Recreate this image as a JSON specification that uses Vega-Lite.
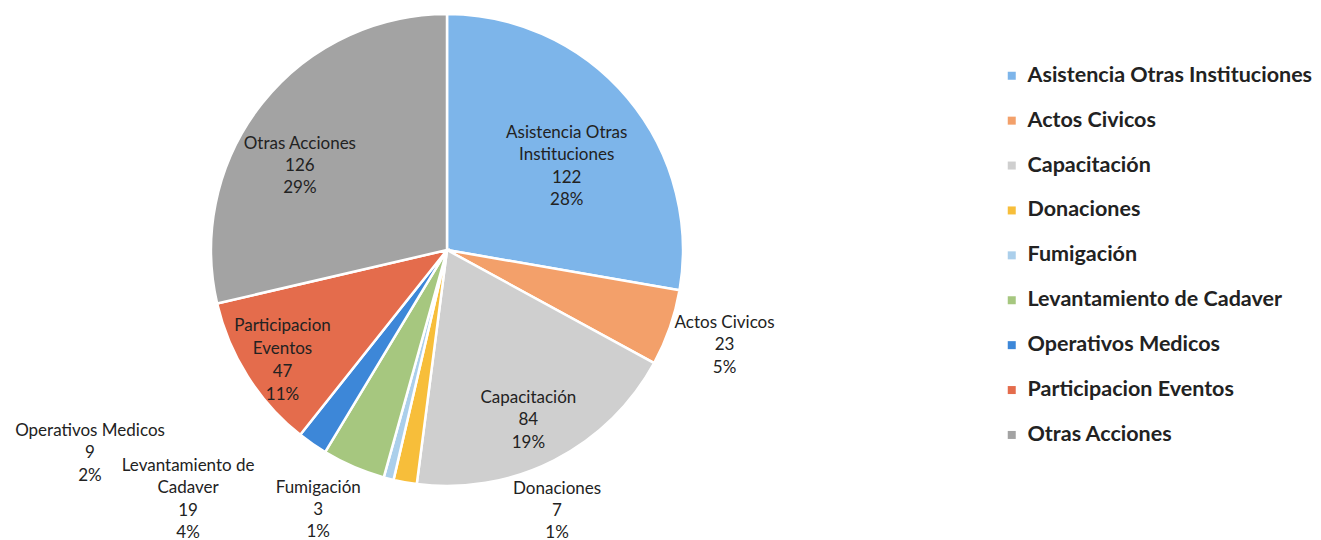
{
  "$schema": "https://vega.github.io/schema/vega-lite/v6.json",
  "width": 894,
  "height": 500,
  "padding": 0,
  "background": "#ffffff",
  "view": {"stroke": null},
  "data": {
    "values": [
      {"i": 1, "cat": "Asistencia Otras Instituciones", "lname": "Asistencia Otras\nInstituciones", "value": 122, "pct": 28},
      {"i": 2, "cat": "Actos Civicos", "lname": "Actos Civicos", "value": 23, "pct": 5},
      {"i": 3, "cat": "Capacitación", "lname": "Capacitación", "value": 84, "pct": 19},
      {"i": 4, "cat": "Donaciones", "lname": "Donaciones", "value": 7, "pct": 1},
      {"i": 5, "cat": "Fumigación", "lname": "Fumigación", "value": 3, "pct": 1},
      {"i": 6, "cat": "Levantamiento de Cadaver", "lname": "Levantamiento de\nCadaver", "value": 19, "pct": 4},
      {"i": 7, "cat": "Operativos Medicos", "lname": "Operativos Medicos", "value": 9, "pct": 2},
      {"i": 8, "cat": "Participacion Eventos", "lname": "Participacion\nEventos", "value": 47, "pct": 11},
      {"i": 9, "cat": "Otras Acciones", "lname": "Otras Acciones", "value": 126, "pct": 29}
    ]
  },
  "transform": [
    {"calculate": "datum.lname + '\\n' + datum.value + '\\n' + datum.pct + '%'", "as": "lbl"}
  ],
  "encoding": {
    "theta": {"field": "value", "type": "quantitative", "stack": true},
    "order": {"field": "i", "type": "quantitative"}
  },
  "layer": [
    {
      "mark": {"type": "arc", "outerRadius": 236, "stroke": "#ffffff", "strokeWidth": 2.5},
      "encoding": {
        "color": {
          "field": "cat",
          "type": "nominal",
          "sort": null,
          "scale": {
            "domain": ["Asistencia Otras Instituciones", "Actos Civicos", "Capacitación", "Donaciones", "Fumigación", "Levantamiento de Cadaver", "Operativos Medicos", "Participacion Eventos", "Otras Acciones"],
            "range": ["#7DB5EA", "#F3A06A", "#CFCFCF", "#F7BE3A", "#ABCFEB", "#A6C77F", "#3D87D8", "#E46C4C", "#A3A3A3"]
          },
          "legend": {
            "title": null,
            "orient": "none",
            "legendX": 1001,
            "legendY": 65,
            "padding": 0,
            "labelFont": "Lato",
            "labelFontSize": 21.5,
            "labelFontWeight": "bold",
            "labelColor": "#222222",
            "symbolType": "square",
            "symbolSize": 64,
            "symbolStrokeWidth": 0,
            "rowPadding": 21.9,
            "labelOffset": 5,
            "labelLimit": 400
          }
        }
      }
    },
    {
      "mark": {"type": "text", "radius": 146, "dx": 8, "dy": -23, "font": "Lato", "fontSize": 17, "lineHeight": 22.5, "lineBreak": "\n", "color": "#222222", "baseline": "middle"},
      "encoding": {"detail": {"field": "cat"}, "text": {"condition": {"test": "datum.cat === 'Asistencia Otras Instituciones'", "field": "lbl"}, "value": ""}}
    },
    {
      "mark": {"type": "text", "radius": 294, "dx": 0, "dy": -24, "font": "Lato", "fontSize": 17, "lineHeight": 22.5, "lineBreak": "\n", "color": "#222222", "baseline": "middle"},
      "encoding": {"detail": {"field": "cat"}, "text": {"condition": {"test": "datum.cat === 'Actos Civicos'", "field": "lbl"}, "value": ""}}
    },
    {
      "mark": {"type": "text", "radius": 188, "dx": -4, "dy": -20, "font": "Lato", "fontSize": 17, "lineHeight": 22.5, "lineBreak": "\n", "color": "#222222", "baseline": "middle"},
      "encoding": {"detail": {"field": "cat"}, "text": {"condition": {"test": "datum.cat === 'Capacitación'", "field": "lbl"}, "value": ""}}
    },
    {
      "mark": {"type": "text", "radius": 270, "dx": 158, "dy": -27, "font": "Lato", "fontSize": 17, "lineHeight": 22, "lineBreak": "\n", "color": "#222222", "baseline": "middle"},
      "encoding": {"detail": {"field": "cat"}, "text": {"condition": {"test": "datum.cat === 'Donaciones'", "field": "lbl"}, "value": ""}}
    },
    {
      "mark": {"type": "text", "radius": 270, "dx": -62, "dy": -24, "font": "Lato", "fontSize": 17, "lineHeight": 22, "lineBreak": "\n", "color": "#222222", "baseline": "middle"},
      "encoding": {"detail": {"field": "cat"}, "text": {"condition": {"test": "datum.cat === 'Fumigación'", "field": "lbl"}, "value": ""}}
    },
    {
      "mark": {"type": "text", "radius": 270, "dx": -152, "dy": -32, "font": "Lato", "fontSize": 17, "lineHeight": 22.5, "lineBreak": "\n", "color": "#222222", "baseline": "middle"},
      "encoding": {"detail": {"field": "cat"}, "text": {"condition": {"test": "datum.cat === 'Levantamiento de Cadaver'", "field": "lbl"}, "value": ""}}
    },
    {
      "mark": {"type": "text", "radius": 270, "dx": -203, "dy": -41, "font": "Lato", "fontSize": 17, "lineHeight": 22.5, "lineBreak": "\n", "color": "#222222", "baseline": "middle"},
      "encoding": {"detail": {"field": "cat"}, "text": {"condition": {"test": "datum.cat === 'Operativos Medicos'", "field": "lbl"}, "value": ""}}
    },
    {
      "mark": {"type": "text", "radius": 197, "dx": 2, "dy": -29, "font": "Lato", "fontSize": 17, "lineHeight": 23, "lineBreak": "\n", "color": "#222222", "baseline": "middle"},
      "encoding": {"detail": {"field": "cat"}, "text": {"condition": {"test": "datum.cat === 'Participacion Eventos'", "field": "lbl"}, "value": ""}}
    },
    {
      "mark": {"type": "text", "radius": 170, "dx": -14, "dy": 0, "font": "Lato", "fontSize": 17, "lineHeight": 22, "lineBreak": "\n", "color": "#222222", "baseline": "middle"},
      "encoding": {"detail": {"field": "cat"}, "text": {"condition": {"test": "datum.cat === 'Otras Acciones'", "field": "lbl"}, "value": ""}}
    }
  ]
}
